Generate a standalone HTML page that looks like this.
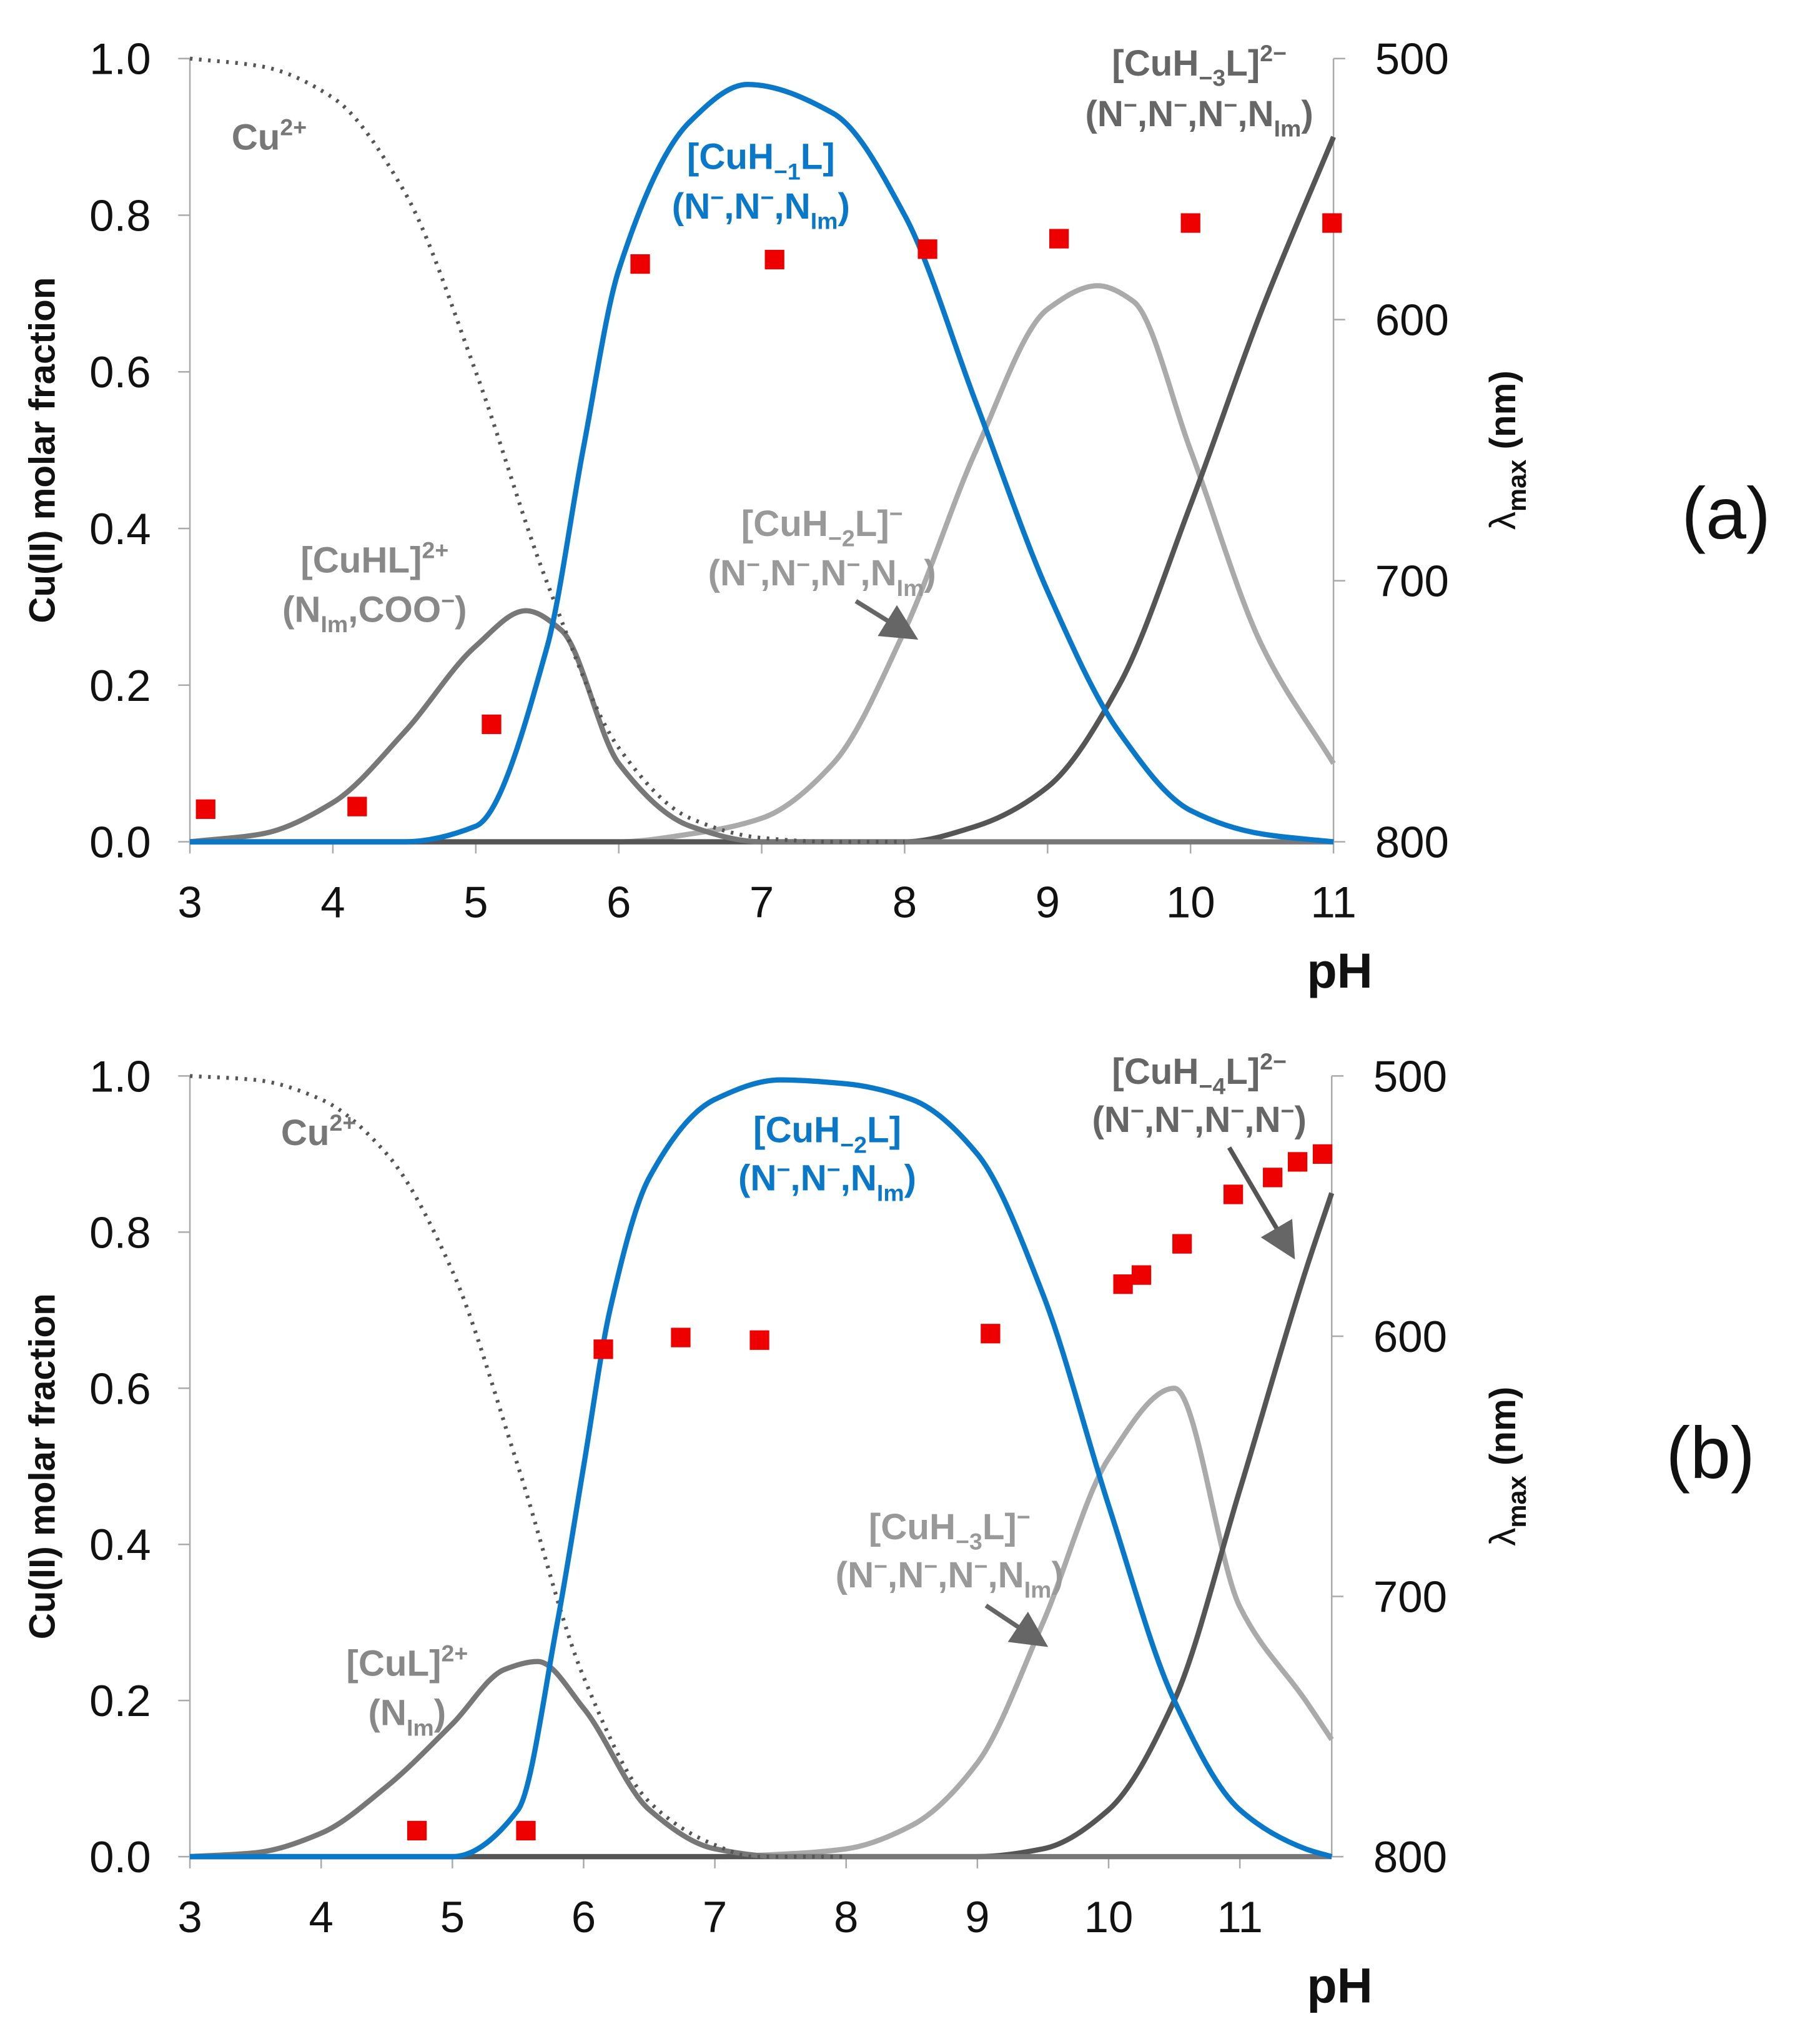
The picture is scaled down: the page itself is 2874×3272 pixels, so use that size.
<!DOCTYPE html>
<html><head><meta charset="utf-8"><style>
html,body{margin:0;padding:0;background:#fff}
svg{display:block}
text{font-family:"Liberation Sans",Arial,sans-serif}
</style></head><body>
<svg id="fig" width="2874" height="3272" viewBox="0 0 1380 1571" preserveAspectRatio="none">
<g id="pa"></g>
<g id="pb"></g>
</svg>
<script>
// ---- Panel (a) data ----
const aCu_pH=[3,3.5,4,4.5,5,5.5,6,6.5,7,7.5,8];
const aCu_v=[1,0.99,0.95,0.83,0.6,0.33,0.12,0.03,0.005,0,0];
const aHL_pH=[3,3.5,4,4.5,5,5.35,5.6,6,6.5,7,8,11];
const aHL_v=[0,0.01,0.05,0.14,0.25,0.295,0.27,0.1,0.02,0,0,0];
const aH1_pH=[3,4.5,5,5.5,5.75,6,6.5,6.9,7.5,8,8.5,9,9.5,10,10.5,11];
const aH1_v=[0,0,0.02,0.25,0.5,0.73,0.92,0.967,0.93,0.8,0.56,0.32,0.14,0.04,0.01,0];
const aH2_pH=[3,6,6.5,7,7.5,8,8.5,9,9.35,9.6,10,10.5,11];
const aH2_v=[0,0,0.01,0.03,0.1,0.27,0.5,0.68,0.71,0.69,0.5,0.25,0.1];
const aH3_pH=[3,8,8.5,9,9.5,10,10.5,11];
const aH3_v=[0,0,0.02,0.07,0.2,0.43,0.68,0.9];
const aPts_pH=[3.11,4.17,5.11,6.15,7.09,8.16,9.08,10.0,10.99];
const aPts_nm=[787.5,786.5,755,578.7,577,573,569,563,563];
const aXTicks=[3,4,5,6,7,8,9,10,11];
const yTicks=[0,0.2,0.4,0.6,0.8,1.0];
const nmTicks=[500,600,700,800];
// ---- Panel (b) data ----
const bCu_pH=[3,3.5,4,4.5,5,5.5,6,6.5,7,7.3,8];
const bCu_v=[1,0.995,0.97,0.9,0.75,0.5,0.23,0.07,0.015,0,0];
const bL_pH=[3,3.5,4,4.5,5,5.4,5.65,6,6.5,7,7.5,11.7];
const bL_v=[0,0.005,0.03,0.09,0.17,0.24,0.25,0.19,0.06,0.01,0,0];
const bH2_pH=[3,5,5.5,5.8,6,6.2,6.5,7,7.5,8,8.5,9,9.5,10,10.5,11,11.5,11.7];
const bH2_v=[0,0,0.06,0.3,0.5,0.7,0.87,0.97,0.995,0.99,0.97,0.9,0.72,0.45,0.2,0.06,0.01,0];
const bH3_pH=[3,7,7.5,8,8.5,9,9.5,10,10.5,11,11.5,11.7];
const bH3_v=[0,0,0.003,0.01,0.04,0.12,0.3,0.51,0.6,0.32,0.2,0.15];
const bH4_pH=[3,9,9.5,10,10.5,11,11.5,11.7];
const bH4_v=[0,0,0.01,0.06,0.2,0.47,0.75,0.85];
const bPts_pH=[4.73,5.56,6.15,6.74,7.34,9.1,10.11,10.25,10.56,10.95,11.25,11.44,11.63];
const bPts_nm=[790,790,605,600.5,601.5,599,580,576.5,564.5,545.5,539,533,530];
const bXTicks=[3,4,5,6,7,8,9,10,11];

const NS='http://www.w3.org/2000/svg';
function mk(parent,tag,attrs,txt){const e=document.createElementNS(NS,tag);for(const k in attrs)e.setAttribute(k,attrs[k]);if(txt!==undefined)e.textContent=txt;parent.appendChild(e);return e;}
// monotone cubic (Fritsch-Carlson) path
function pathFrom(xs,ys,X,Y){
  const px=xs.map(X), py=ys.map(Y), n=px.length;
  const d=[],m=new Array(n);
  for(let i=0;i<n-1;i++)d.push((py[i+1]-py[i])/(px[i+1]-px[i]));
  m[0]=d[0];m[n-1]=d[n-2];
  for(let i=1;i<n-1;i++){
    if(d[i-1]*d[i]<=0)m[i]=0;
    else{const w1=2*(px[i+1]-px[i])+(px[i]-px[i-1]),w2=(px[i+1]-px[i])+2*(px[i]-px[i-1]);m[i]=(w1+w2)/(w1/d[i-1]+w2/d[i]);}
  }
  let s='M'+px[0].toFixed(1)+','+py[0].toFixed(1);
  for(let i=0;i<n-1;i++){
    const h=(px[i+1]-px[i])/3;
    s+='C'+(px[i]+h).toFixed(1)+','+(py[i]+m[i]*h).toFixed(1)+' '+(px[i+1]-h).toFixed(1)+','+(py[i+1]-m[i+1]*h).toFixed(1)+' '+px[i+1].toFixed(1)+','+py[i+1].toFixed(1);
  }
  return s;
}
function panel(g,cfg){
  const X=v=>cfg.x0+cfg.xs*(v-3), Y=v=>cfg.y0-(cfg.y0-cfg.y1)*v;
  const N=v=>cfg.y1+(v-500)/300*(cfg.y0-cfg.y1);
  const xEnd=cfg.xEnd;
  let e=mk(g,'line',{x1:cfg.x0,y1:cfg.y1,x2:cfg.x0,y2:cfg.y0,stroke:'#aaa','stroke-width':1.2});
  
  e=mk(g,'line',{x1:X(xEnd),y1:cfg.y1,x2:X(xEnd),y2:cfg.y0,stroke:'#aaa','stroke-width':1.2});
  
  e=mk(g,'line',{x1:cfg.x0,y1:cfg.y0,x2:X(xEnd),y2:cfg.y0,stroke:'#aaa','stroke-width':1.2});
  
  yTicks.forEach(t=>{
    mk(g,'line',{x1:cfg.x0-9,x2:cfg.x0,y1:Y(t),y2:Y(t),stroke:'#aaa','stroke-width':1.2});
    e=mk(g,'text',{x:cfg.x0-30,y:Y(t)+12,'text-anchor':'end','font-size':34,fill:'#111'},t.toFixed(1));
    
  });
  nmTicks.forEach(t=>{
    mk(g,'line',{x1:X(xEnd),x2:X(xEnd)+9,y1:N(t),y2:N(t),stroke:'#aaa','stroke-width':1.2});
    e=mk(g,'text',{x:X(xEnd)+32,y:N(t)+12,'font-size':34,fill:'#111'},String(t));
    
  });
  cfg.xt.forEach(t=>{
    mk(g,'line',{x1:X(t),x2:X(t),y1:cfg.y0,y2:cfg.y0+9,stroke:'#aaa','stroke-width':1.2});
    e=mk(g,'text',{x:X(t),y:cfg.y0+58,'text-anchor':'middle','font-size':34,fill:'#111'},String(t));
    
  });
  e=mk(g,'text',{x:1030,y:cfg.y0+112,'text-anchor':'middle','font-size':38,'font-weight':'bold',fill:'#111'},'pH');
  
  const cy=(cfg.y0+cfg.y1)/2;
  e=mk(g,'text',{x:0,y:0,transform:`translate(42,${cy}) rotate(-90)`,'text-anchor':'middle','font-size':28,'font-weight':'bold',fill:'#111'},'Cu(II) molar fraction');
  
  e=mk(g,'text',{x:0,y:0,transform:`translate(1165,${cy}) rotate(-90)`,'text-anchor':'middle','font-size':28,'font-weight':'bold',fill:'#111'});
  
  e.innerHTML='<tspan font-weight="normal">λ</tspan><tspan font-size="20" dy="8">max</tspan><tspan dy="-8"> (nm)</tspan>';
  cfg.series.forEach(s=>{
    const p=mk(g,'path',{d:pathFrom(s.x,s.y,X,Y),fill:'none',stroke:s.c,'stroke-width':s.w||4,'stroke-dasharray':s.dash||'none'});
    
    
  });
  cfg.px.forEach((ph,i)=>{
    const r=mk(g,'rect',{x:X(ph)-7.5,y:N(cfg.pn[i])-7.5,width:15,height:15,fill:'#ee0000'});
    
    
  });
}
const gray='#777',light='#aaa',dark='#555',blue='#0a78c8';
panel(document.getElementById('pa'),{x0:146,xs:109.9,y0:647,y1:45,xEnd:11,xt:aXTicks,px:aPts_pH,pn:aPts_nm,series:[
 {x:aH2_pH,y:aH2_v,c:light,name:'curve-cuh-2l'},
 {x:aH3_pH,y:aH3_v,c:dark,name:'curve-cuh-3l'},
 {x:aHL_pH,y:aHL_v,c:gray,name:'curve-cuhl'},
 {x:aCu_pH,y:aCu_v,c:'#555',w:3,dash:'2 5',name:'curve-cu2plus'},
 {x:aH1_pH,y:aH1_v,c:blue,name:'curve-cuh-1l'}]});
panel(document.getElementById('pb'),{x0:146,xs:100.9,y0:1427,y1:827,xEnd:11.7,xt:bXTicks,px:bPts_pH,pn:bPts_nm,series:[
 {x:bH3_pH,y:bH3_v,c:light,name:'curve-cuh-3l'},
 {x:bH4_pH,y:bH4_v,c:dark,name:'curve-cuh-4l'},
 {x:bL_pH,y:bL_v,c:gray,name:'curve-cul'},
 {x:bCu_pH,y:bCu_v,c:'#555',w:3,dash:'2 5',name:'curve-cu2plus'},
 {x:bH2_pH,y:bH2_v,c:blue,name:'curve-cuh-2l'}]});
</script>
<svg width="2874" height="3272" viewBox="0 0 1380 1571" preserveAspectRatio="none" style="position:absolute;left:0;top:0" font-family="Liberation Sans, Arial, sans-serif">
<defs><marker id="ar" markerWidth="8" markerHeight="8" refX="6" refY="4" orient="auto"><path d="M0,0 L8,4 L0,8 z" fill="#666"/></marker></defs>
<g font-weight="bold" font-size="28">
<text x="178" y="115" fill="#777">Cu<tspan font-size="18" dy="-11">2+</tspan></text>
<text x="585" y="130" fill="#0a78c8" text-anchor="middle">[CuH<tspan font-size="18" dy="8">−1</tspan><tspan dy="-8">L]</tspan></text>
<text x="585" y="168" fill="#0a78c8" text-anchor="middle">(N<tspan font-size="18" dy="-10">−</tspan><tspan dy="10">,N</tspan><tspan font-size="18" dy="-10">−</tspan><tspan dy="10">,N</tspan><tspan font-size="18" dy="8">Im</tspan><tspan dy="-8">)</tspan></text>
<text x="922" y="58" fill="#666" text-anchor="middle">[CuH<tspan font-size="18" dy="8">−3</tspan><tspan dy="-8">L]</tspan><tspan font-size="18" dy="-11">2−</tspan></text>
<text x="922" y="97" fill="#666" text-anchor="middle">(N<tspan font-size="18" dy="-10">−</tspan><tspan dy="10">,N</tspan><tspan font-size="18" dy="-10">−</tspan><tspan dy="10">,N</tspan><tspan font-size="18" dy="-10">−</tspan><tspan dy="10">,N</tspan><tspan font-size="18" dy="8">Im</tspan><tspan dy="-8">)</tspan></text>
<text x="632" y="412" fill="#999" text-anchor="middle">[CuH<tspan font-size="18" dy="8">−2</tspan><tspan dy="-8">L]</tspan><tspan font-size="18" dy="-11">−</tspan></text>
<text x="632" y="450" fill="#999" text-anchor="middle">(N<tspan font-size="18" dy="-10">−</tspan><tspan dy="10">,N</tspan><tspan font-size="18" dy="-10">−</tspan><tspan dy="10">,N</tspan><tspan font-size="18" dy="-10">−</tspan><tspan dy="10">,N</tspan><tspan font-size="18" dy="8">Im</tspan><tspan dy="-8">)</tspan></text>
<text x="288" y="440" fill="#888" text-anchor="middle">[CuHL]<tspan font-size="18" dy="-11">2+</tspan></text>
<text x="288" y="478" fill="#888" text-anchor="middle">(N<tspan font-size="18" dy="8">Im</tspan><tspan dy="-8">,COO</tspan><tspan font-size="18" dy="-10">−</tspan><tspan dy="10">)</tspan></text>
<text x="216" y="880" fill="#777">Cu<tspan font-size="18" dy="-11">2+</tspan></text>
<text x="636" y="878" fill="#0a78c8" text-anchor="middle">[CuH<tspan font-size="18" dy="8">−2</tspan><tspan dy="-8">L]</tspan></text>
<text x="636" y="915" fill="#0a78c8" text-anchor="middle">(N<tspan font-size="18" dy="-10">−</tspan><tspan dy="10">,N</tspan><tspan font-size="18" dy="-10">−</tspan><tspan dy="10">,N</tspan><tspan font-size="18" dy="8">Im</tspan><tspan dy="-8">)</tspan></text>
<text x="922" y="833" fill="#666" text-anchor="middle">[CuH<tspan font-size="18" dy="8">−4</tspan><tspan dy="-8">L]</tspan><tspan font-size="18" dy="-11">2−</tspan></text>
<text x="922" y="870" fill="#666" text-anchor="middle">(N<tspan font-size="18" dy="-10">−</tspan><tspan dy="10">,N</tspan><tspan font-size="18" dy="-10">−</tspan><tspan dy="10">,N</tspan><tspan font-size="18" dy="-10">−</tspan><tspan dy="10">,N</tspan><tspan font-size="18" dy="-10">−</tspan><tspan dy="10">)</tspan></text>
<text x="730" y="1183" fill="#999" text-anchor="middle">[CuH<tspan font-size="18" dy="8">−3</tspan><tspan dy="-8">L]</tspan><tspan font-size="18" dy="-11">−</tspan></text>
<text x="730" y="1220" fill="#999" text-anchor="middle">(N<tspan font-size="18" dy="-10">−</tspan><tspan dy="10">,N</tspan><tspan font-size="18" dy="-10">−</tspan><tspan dy="10">,N</tspan><tspan font-size="18" dy="-10">−</tspan><tspan dy="10">,N</tspan><tspan font-size="18" dy="8">Im</tspan><tspan dy="-8">)</tspan></text>
<text x="313" y="1288" fill="#888" text-anchor="middle">[CuL]<tspan font-size="18" dy="-11">2+</tspan></text>
<text x="313" y="1326" fill="#888" text-anchor="middle">(N<tspan font-size="18" dy="8">Im</tspan><tspan dy="-8">)</tspan></text>
</g>
<line x1="658" y1="462" x2="700" y2="488" stroke="#666" stroke-width="3.5" marker-end="url(#ar)"/>
<line x1="758" y1="1234" x2="800" y2="1262" stroke="#666" stroke-width="3.5" marker-end="url(#ar)"/>
<line x1="945" y1="882" x2="992" y2="962" stroke="#555" stroke-width="3.5" marker-end="url(#ar)"/>
<text x="1327" y="414" font-size="56" text-anchor="middle" fill="#111">(a)</text>
<text x="1315" y="1136" font-size="56" text-anchor="middle" fill="#111">(b)</text>
</svg>
</body></html>
